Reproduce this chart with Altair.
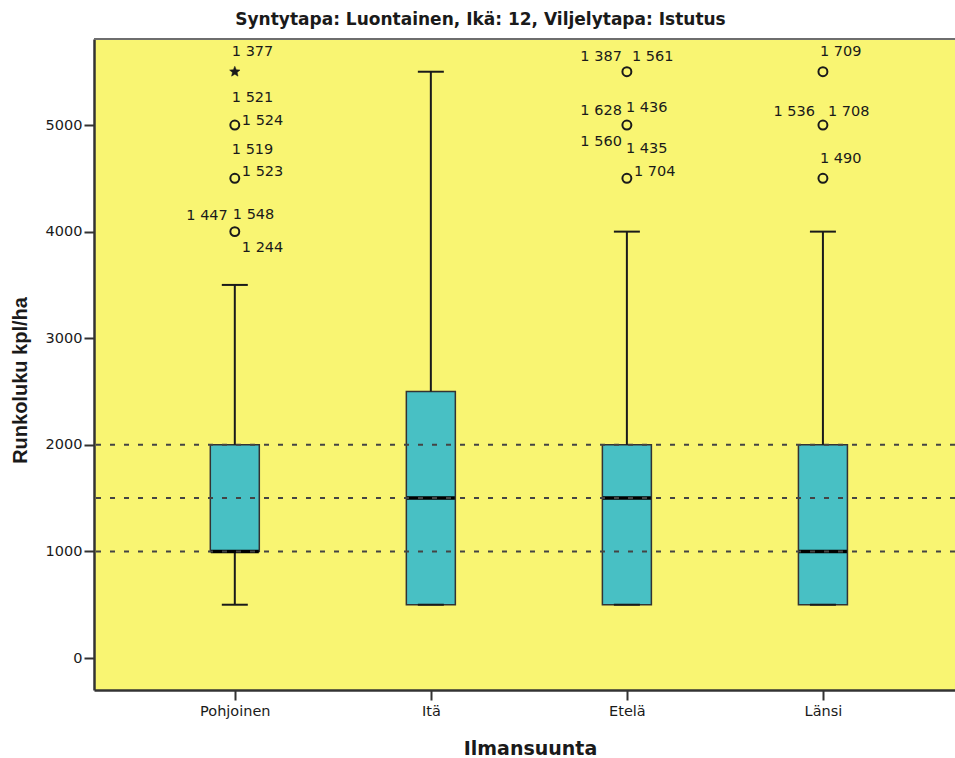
import altair as alt
import pandas as pd

# ---- data ----
categories = ["Pohjoinen", "Itä", "Etelä", "Länsi"]
whisker_low = [500, 500, 500, 500]
q1 = [1000, 500, 500, 500]
median = [1000, 1500, 1500, 1000]
q3 = [2000, 2500, 2000, 2000]
whisker_high = [3500, 5500, 4000, 4000]

ref_lines = [1000, 1500, 2000]
y_ticks = [0, 1000, 2000, 3000, 4000, 5000]

outlier_cat = ["Pohjoinen", "Pohjoinen", "Pohjoinen", "Etelä", "Etelä", "Etelä", "Länsi", "Länsi", "Länsi"]
outlier_val = [4000, 4500, 5000, 4500, 5000, 5500, 4500, 5000, 5500]
extreme_cat = ["Pohjoinen"]
extreme_val = [5500]

label_cat = ["Pohjoinen"] * 8 + ["Etelä"] * 7 + ["Länsi"] * 4
label_val = [5500, 5000, 5000, 4500, 4500, 4000, 4000, 4000,
             5500, 5500, 5000, 5000, 4500, 4500, 4500,
             5500, 5000, 5000, 4500]
label_text = ["1 377", "1 521", "1 524", "1 519", "1 523", "1 447", "1 548", "1 244",
              "1 387", "1 561", "1 628", "1 436", "1 560", "1 435", "1 704",
              "1 709", "1 536", "1 708", "1 490"]

# label placement (style only)
label_dx = [-3, -3, 7, -3, 7, -7, -2, 7,
            -5, 5, -5, -1, -5, -1, 7,
            -3, -8, 5, -3]
label_dy = [-20, -27, -4, -28, -6, -16, -17, 16,
            -15, -15, -14, -17, -36, -29, -6,
            -20, -13, -13, -19]
label_align = ["left", "left", "left", "left", "left", "right", "left", "left",
               "right", "left", "right", "left", "right", "left", "left",
               "left", "right", "left", "left"]

# ---- styling ----
YELLOW = "#F9F572"
TEAL = "#48C0C4"
DARK = "#1a1a1a"
FONT = "DejaVu Sans"
W, H = 861, 651

box_df = pd.DataFrame({
    "cat": categories, "low": whisker_low, "q1": q1,
    "med": median, "q3": q3, "high": whisker_high,
})
out_df = pd.DataFrame({"cat": outlier_cat, "val": outlier_val})
ext_df = pd.DataFrame({"cat": extreme_cat, "val": extreme_val})
ref_df = pd.DataFrame({"val": ref_lines})

x_scale = alt.Scale(type="point", domain=categories, padding=0.696, align=0.516)
y_scale = alt.Scale(domain=[-300, 5807], nice=False, zero=False)

x_axis = alt.Axis(
    title="Ilmansuunta", labelFont=FONT, labelFontSize=14.5, labelColor=DARK,
    labelAngle=0, labelPadding=4, tickSize=10, tickWidth=2, tickColor="#333333",
    domainColor="#333333", domainWidth=2.5, grid=False,
    titleFont=FONT, titleFontSize=19, titleFontWeight="bold", titleColor=DARK,
    titleX=436, titleY=58, titleBaseline="middle", titleAlign="center",
)
y_axis = alt.Axis(
    title="Runkoluku kpl/ha", values=y_ticks, format="d",
    labelFont=FONT, labelFontSize=14.5, labelColor=DARK, labelPadding=2,
    tickSize=10, tickWidth=2, tickColor="#333333",
    domainColor="#333333", domainWidth=2.5, grid=False,
    titleFont="Liberation Sans", titleFontSize=20, titleFontWeight="bold", titleColor=DARK,
    titleAngle=270, titleX=-74, titleY=341, titleBaseline="middle", titleAlign="center",
)

def X():
    return alt.X("cat:N", scale=x_scale, axis=x_axis, sort=categories)

base = alt.Chart(box_df)

# top frame line of the plot area (the right side runs off the picture)
frame_top = base.mark_rule(color="#6e6e6e", strokeWidth=2).encode(
    x=alt.value(0), x2=alt.value(W), y=alt.value(0)
)
boxes = base.mark_bar(size=49, fill=TEAL, stroke="#333333", strokeWidth=1.5).encode(
    x=X(), y=alt.Y("q1:Q", scale=y_scale, axis=y_axis), y2="q3:Q"
)
whisk_lo = base.mark_rule(color=DARK, strokeWidth=2).encode(
    x=X(), y=alt.Y("low:Q", scale=y_scale), y2="q1:Q"
)
whisk_hi = base.mark_rule(color=DARK, strokeWidth=2).encode(
    x=X(), y=alt.Y("q3:Q", scale=y_scale), y2="high:Q"
)
cap_lo = base.mark_tick(color=DARK, size=26, thickness=2, orient="horizontal", opacity=1).encode(
    x=X(), y=alt.Y("low:Q", scale=y_scale)
)
cap_hi = base.mark_tick(color=DARK, size=26, thickness=2, orient="horizontal", opacity=1).encode(
    x=X(), y=alt.Y("high:Q", scale=y_scale)
)
med = base.mark_tick(color="#000000", size=48, thickness=3.5, orient="horizontal", opacity=1).encode(
    x=X(), y=alt.Y("med:Q", scale=y_scale)
)
refs = alt.Chart(ref_df).mark_rule(color="#444444", strokeWidth=2, strokeDash=[5, 9]).encode(
    y=alt.Y("val:Q", scale=y_scale)
)
outs = alt.Chart(out_df).mark_point(shape="circle", filled=False, size=80,
                                    stroke=DARK, strokeWidth=2, opacity=1).encode(
    x=X(), y=alt.Y("val:Q", scale=y_scale)
)
STAR = ("M0,-1L0.265,-0.364L0.951,-0.309L0.428,0.139L0.588,0.809L0,0.45"
        "L-0.588,0.809L-0.428,0.139L-0.951,-0.309L-0.265,-0.364Z")
ext = alt.Chart(ext_df).mark_point(shape=STAR, filled=True, size=120,
                                   fill=DARK, stroke=DARK, strokeWidth=0.5, opacity=1).encode(
    x=X(), y=alt.Y("val:Q", scale=y_scale)
)

label_layers = []
for c, v, t, dx, dy, al in zip(label_cat, label_val, label_text, label_dx, label_dy, label_align):
    d = pd.DataFrame({"cat": [c], "val": [v], "txt": [t]})
    label_layers.append(
        alt.Chart(d).mark_text(dx=dx, dy=dy, align=al, baseline="middle",
                               font=FONT, fontSize=14.5, color=DARK).encode(
            x=X(), y=alt.Y("val:Q", scale=y_scale), text="txt:N"
        )
    )

chart = alt.layer(
    boxes, frame_top, whisk_lo, whisk_hi, cap_lo, cap_hi, med, refs, outs, ext, *label_layers
).properties(
    width=W, height=H,
    padding={"left": 94, "top": 39, "right": 0, "bottom": 68},
    autosize=alt.AutoSizeParams(type="none"),
    background="white",
    title=alt.TitleParams(
        text="Syntytapa: Luontainen, Ikä: 12, Viljelytapa: Istutus",
        font=FONT, fontSize=17, fontWeight="bold", color=DARK,
        anchor="middle", dx=-44, offset=15, dy=19, baseline="alphabetic",
    ),
).configure_view(
    fill=YELLOW, strokeWidth=0
)

chart.save("out.html", embed_options={"renderer": "svg", "actions": False})
